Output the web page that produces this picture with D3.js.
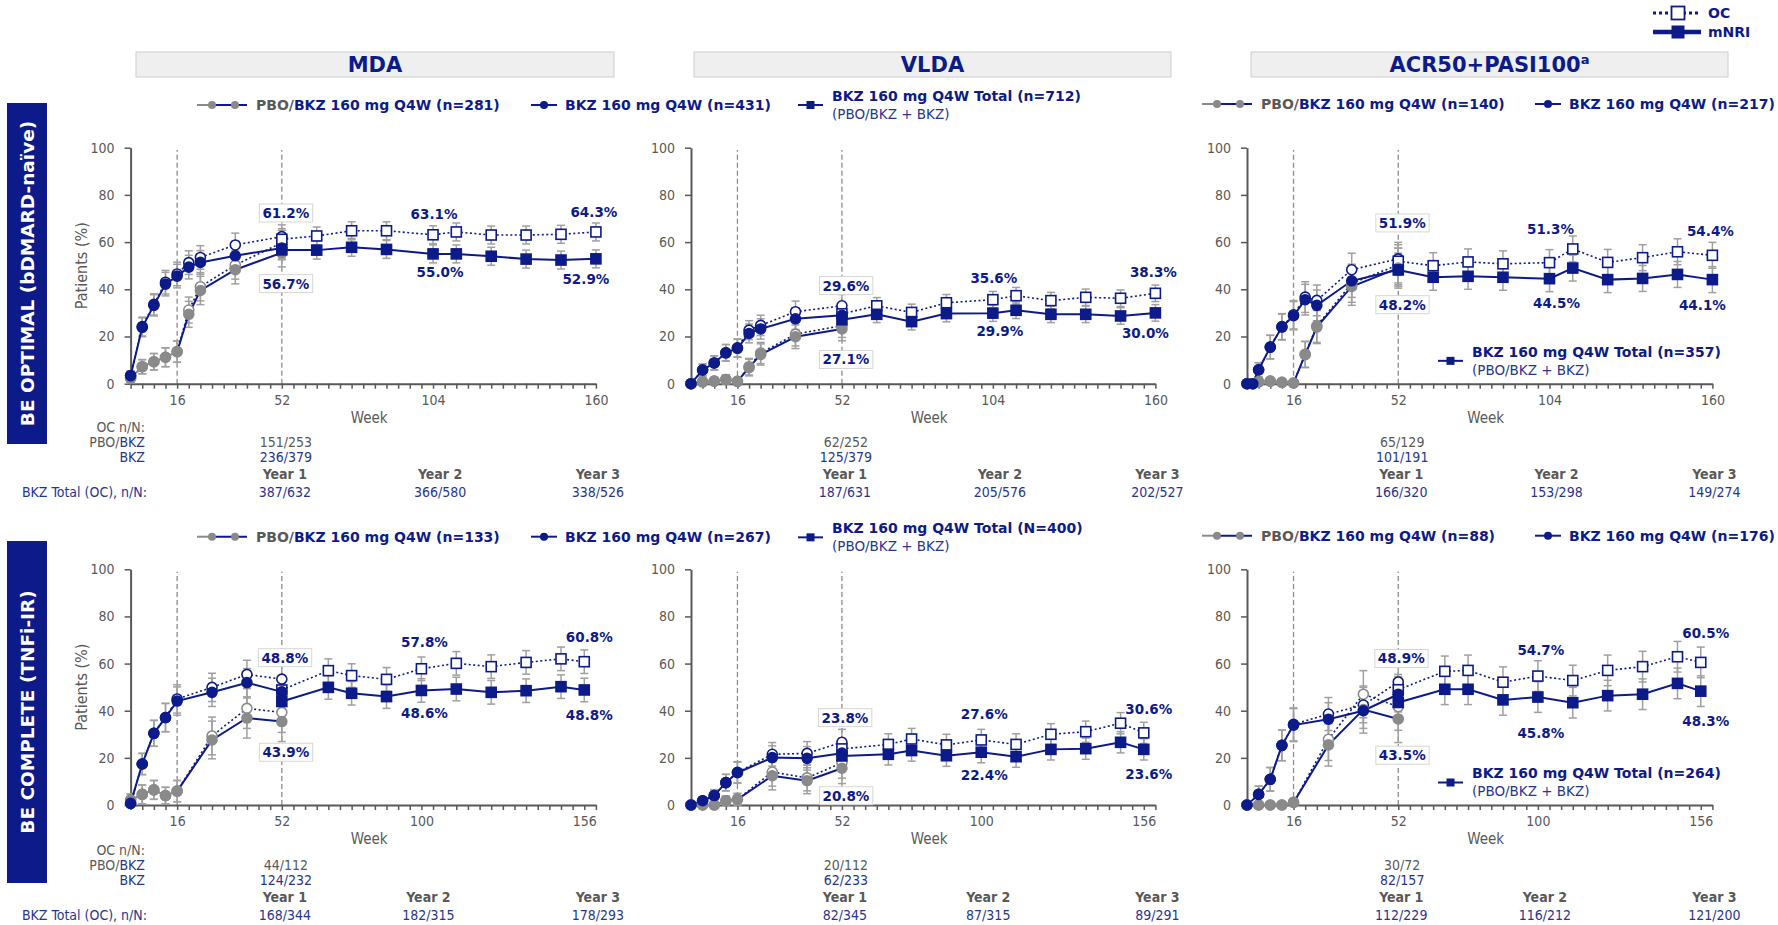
<!DOCTYPE html>
<html>
<head>
<meta charset="utf-8">
<script src="https://cdn.jsdelivr.net/npm/d3@7"></script>
<style>
  body { margin: 0; background: #fff; }
  svg text { font-family: "DejaVu Sans", sans-serif; }
  .cond { font-family: "DejaVu Sans Condensed", "DejaVu Sans", sans-serif; font-stretch: condensed; }
</style>
</head>
<body>
<div id="container"></div>
<script>
// ---- weeks / ticks ----
const weeksOptEarly = [0, 4, 8, 12, 16, 20, 24, 36, 52];
const weeksOptEarlyAcr = [0, 2, 4, 8, 12, 16, 20, 24, 36, 52];
const weeksOptLate = [52, 64, 76, 88, 104, 112, 124, 136, 148, 160];
const weeksCompEarly = [0, 4, 8, 12, 16, 28, 40, 52];
const weeksCompLate = [52, 68, 76, 88, 100, 112, 124, 136, 148, 156];
const tickLabelsOpt = [16, 52, 104, 160];
const tickLabelsComp = [16, 52, 100, 156];
const yTicks = [0, 20, 40, 60, 80, 100];

// ---- BE OPTIMAL, MDA ----
const mdaOptPboNRI = [2.3, 7.2, 9.3, 11.2, 13.6, 29.4, 39.5, 48.3, 55.5];
const mdaOptPboOC  = [2.3, 7.2, 9.3, 11.2, 13.6, 31.2, 41.1, 50.3, 59.7];
const mdaOptBkzNRI = [3.4, 23.9, 33.2, 42.2, 45.6, 49.4, 51.4, 54.2, 57.5];
const mdaOptBkzOC  = [3.4, 24.2, 33.6, 43.0, 46.5, 51.3, 53.5, 58.8, 62.3];
const mdaOptTotOC  = [61.2, 62.6, 64.8, 64.8, 63.1, 64.3, 63.0, 63.0, 63.3, 64.3];
const mdaOptTotNRI = [56.7, 56.6, 57.8, 56.9, 55.0, 55.0, 54.0, 52.8, 52.4, 52.9];
const mdaOptPboErr = [2, 3, 3.5, 4, 4.5, 5.5, 6, 6, 6];
const mdaOptBkzErr = [2, 4, 4.5, 5, 5, 5, 5, 5, 5];

// ---- BE OPTIMAL, VLDA ----
const vldaOptPboNRI = [0, 0.8, 1.1, 1.8, 1.0, 6.8, 12.4, 19.9, 23.2];
const vldaOptPboOC  = [0, 0.8, 1.1, 1.8, 1.0, 7.2, 13.0, 21.0, 24.6];
const vldaOptBkzNRI = [0, 5.8, 8.8, 13.1, 15.0, 21.3, 23.2, 27.5, 29.0];
const vldaOptBkzOC  = [0, 5.8, 8.8, 13.1, 15.2, 22.7, 24.7, 30.5, 33.0];
const vldaOptTotOC  = [29.6, 33.0, 30.2, 34.3, 35.6, 37.3, 35.2, 36.6, 36.2, 38.3];
const vldaOptTotNRI = [27.1, 29.4, 26.3, 29.7, 29.9, 31.1, 29.4, 29.4, 28.7, 30.0];
const vldaOptPboErr = [0.5, 1, 1.5, 2, 1.5, 3.5, 4.5, 5, 5];
const vldaOptBkzErr = [0.5, 2.5, 3, 3.5, 3.8, 4, 4.3, 4.5, 4.8];

// ---- BE OPTIMAL, ACR50+PASI100 ----
const acrOptPboNRI = [0, 0, 0.8, 1.1, 0.6, 0.3, 12.3, 24.0, 41.2, 49.0];
const acrOptPboOC  = [0, 0, 0.8, 1.1, 0.6, 0.3, 12.5, 24.5, 42.5, 50.4];
const acrOptBkzNRI = [0, 0, 5.9, 15.5, 24.0, 28.8, 35.6, 33.2, 43.6, 48.3];
const acrOptBkzOC  = [0, 0, 5.9, 15.5, 24.2, 29.2, 36.7, 35.3, 48.3, 52.9];
const acrOptTotOC  = [51.9, 50.0, 51.6, 50.8, 51.3, 57.1, 51.4, 53.4, 55.9, 54.4];
const acrOptTotNRI = [48.2, 45.1, 45.5, 45.1, 44.5, 49.0, 44.1, 44.6, 46.3, 44.1];
const acrOptPboErr = [0.5, 0.5, 1, 1, 1, 1, 5.5, 7, 8, 8.5];
const acrOptBkzErr = [0.5, 0.5, 3, 5, 5.5, 6, 6.5, 6.5, 7, 7];

// ---- BE COMPLETE, MDA ----
const mdaCompPboNRI = [2.1, 4.5, 6.4, 4.0, 5.9, 27.6, 36.9, 35.4];
const mdaCompPboOC  = [2.1, 4.5, 6.4, 4.0, 5.9, 29.3, 41.0, 39.3];
const mdaCompBkzNRI = [0.7, 17.4, 30.4, 37.1, 44.1, 47.8, 51.9, 48.0];
const mdaCompBkzOC  = [0.7, 17.4, 30.4, 37.1, 45.0, 49.9, 55.4, 53.4];
const mdaCompTotOC  = [48.8, 57.0, 54.9, 53.3, 57.8, 60.1, 58.7, 60.5, 62.0, 60.8];
const mdaCompTotNRI = [43.9, 49.9, 47.4, 46.0, 48.6, 49.2, 47.8, 48.5, 50.2, 48.8];
const mdaCompPboErr = [2.5, 4, 4, 3.5, 4.5, 8, 8.5, 8.5];
const mdaCompBkzErr = [1.5, 4.5, 5.5, 6, 6, 6, 6, 6];

// ---- BE COMPLETE, VLDA ----
const vldaCompPboNRI = [0, 0, 0, 1.8, 2.4, 12.4, 10.3, 15.6];
const vldaCompPboOC  = [0, 0, 0, 1.8, 2.4, 14.0, 11.5, 17.9];
const vldaCompBkzNRI = [0, 1.8, 4.0, 9.5, 13.7, 20.1, 19.8, 22.0];
const vldaCompBkzOC  = [0, 1.8, 4.0, 9.5, 13.9, 21.5, 21.9, 26.6];
const vldaCompTotOC  = [23.8, 25.7, 28.0, 25.5, 27.6, 25.7, 30.0, 31.1, 34.7, 30.6];
const vldaCompTotNRI = [20.8, 21.5, 23.1, 20.9, 22.4, 20.5, 23.6, 23.9, 26.6, 23.6];
const vldaCompPboErr = [0.5, 0.5, 0.5, 2, 2.5, 6, 5.5, 6.5];
const vldaCompBkzErr = [0.5, 1.5, 2.5, 3.5, 4.5, 5, 5, 5.5];

// ---- BE COMPLETE, ACR50+PASI100 ----
const acrCompPboNRI = [0, 0, 0, 0, 1.1, 25.5, 40.5, 36.5];
const acrCompPboOC  = [0, 0, 0, 0, 1.1, 27.9, 47.0, 41.7];
const acrCompBkzNRI = [0, 4.5, 10.9, 25.3, 33.9, 36.4, 40.0, 47.0];
const acrCompBkzOC  = [0, 4.5, 10.9, 25.3, 34.2, 38.6, 42.4, 52.2];
const acrCompTotOC  = [48.9, 56.7, 57.1, 52.1, 54.7, 52.8, 57.1, 58.7, 62.9, 60.5];
const acrCompTotNRI = [43.5, 49.1, 49.1, 44.6, 45.8, 43.4, 46.4, 47.0, 51.6, 48.3];
const acrCompPboErr = [0.5, 0.5, 0.5, 0.5, 1.5, 9, 10, 10];
const acrCompBkzErr = [0.5, 3.5, 5, 6.5, 7, 7, 7.5, 7.5];

// total series error half-width per panel (MDA, VLDA, ACR) x (OPTIMAL, COMPLETE)
const totErrOpt = [3.8, 3.5, 5.5];
const totErrComp = [5, 4.5, 6.5];

// ---- texts ----
const outcomes = ['MDA', 'VLDA', 'ACR50+PASI100'];
const studies = ['BE OPTIMAL (bDMARD-naïve)', 'BE COMPLETE (TNFi-IR)'];
const pboN = [['(n=281)', '(n=140)'], ['(n=133)', '(n=88)']];
const bkzN = [['(n=431)', '(n=217)'], ['(n=267)', '(n=176)']];
const totN = [['(n=712)', '(n=357)'], ['(N=400)', '(n=264)']];
const pboFrac52 = [['151/253', '62/252', '65/129'], ['44/112', '20/112', '30/72']];
const bkzFrac52 = [['236/379', '125/379', '101/191'], ['124/232', '62/233', '82/157']];
const totFracOpt = [['387/632', '366/580', '338/526'], ['187/631', '205/576', '202/527'], ['166/320', '153/298', '149/274']];
const totFracComp = [['168/344', '182/315', '178/293'], ['82/345', '87/315', '89/291'], ['112/229', '116/212', '121/200']];
const yearLabels = ['Year 1', 'Year 2', 'Year 3'];

// ---- layout ----
const NAVY = '#0d1a8a', NAVY_LT = '#28358f', GREY = '#8a8a8a', TXT = '#595959', ERR = '#a0a0a0';
const colX = [[130.6, 595.9], [691, 1155.4], [1247, 1712.4]];
const rowY = [[383.7, 147.7], [805, 569.3]];
const headerX = [[136, 614], [694, 1171], [1251, 1728]];
const rowTextY = [
  { oc: 427, pbo: 442, bkz: 457, year: 474, tot: 492, week: 418, legend: 105, totL: [96, 114], accIn: [351.7, 370], box: [103, 444] },
  { oc: 850, pbo: 865, bkz: 880, year: 897, tot: 915, week: 839, legend: 536.7, totL: [528, 546.7], accIn: [773.3, 791.7], box: [541, 883] }
];
const labelIdx = [0, 4, 9];
const aboveDy = [[-26, -21, -20], [-28, -21, -21], [-38, -33, -24], [-32, -26, -24], [-31, -26, -24], [-31, -26, -29]];
const belowDy = [[34, 18, 20], [40, 18, 20], [35, 25, 26], [51, 23, 25], [40, 23, 25], [53, 36, 30]];
const aboveDx = [[4, 1, -2], [3, 3, 5]];
const belowDx = [[4, 7, -10], [4, 3, 5]];

const panels = [
  { row: 0, col: 0, early: weeksOptEarly, late: weeksOptLate, ticks: tickLabelsOpt, pboOC: mdaOptPboOC, pboNRI: mdaOptPboNRI, bkzOC: mdaOptBkzOC, bkzNRI: mdaOptBkzNRI, totOC: mdaOptTotOC, totNRI: mdaOptTotNRI, pboErr: mdaOptPboErr, bkzErr: mdaOptBkzErr, totErr: totErrOpt[0], fr: totFracOpt[0] },
  { row: 0, col: 1, early: weeksOptEarly, late: weeksOptLate, ticks: tickLabelsOpt, pboOC: vldaOptPboOC, pboNRI: vldaOptPboNRI, bkzOC: vldaOptBkzOC, bkzNRI: vldaOptBkzNRI, totOC: vldaOptTotOC, totNRI: vldaOptTotNRI, pboErr: vldaOptPboErr, bkzErr: vldaOptBkzErr, totErr: totErrOpt[1], fr: totFracOpt[1] },
  { row: 0, col: 2, early: weeksOptEarlyAcr, late: weeksOptLate, ticks: tickLabelsOpt, pboOC: acrOptPboOC, pboNRI: acrOptPboNRI, bkzOC: acrOptBkzOC, bkzNRI: acrOptBkzNRI, totOC: acrOptTotOC, totNRI: acrOptTotNRI, pboErr: acrOptPboErr, bkzErr: acrOptBkzErr, totErr: totErrOpt[2], fr: totFracOpt[2] },
  { row: 1, col: 0, early: weeksCompEarly, late: weeksCompLate, ticks: tickLabelsComp, pboOC: mdaCompPboOC, pboNRI: mdaCompPboNRI, bkzOC: mdaCompBkzOC, bkzNRI: mdaCompBkzNRI, totOC: mdaCompTotOC, totNRI: mdaCompTotNRI, pboErr: mdaCompPboErr, bkzErr: mdaCompBkzErr, totErr: totErrComp[0], fr: totFracComp[0] },
  { row: 1, col: 1, early: weeksCompEarly, late: weeksCompLate, ticks: tickLabelsComp, pboOC: vldaCompPboOC, pboNRI: vldaCompPboNRI, bkzOC: vldaCompBkzOC, bkzNRI: vldaCompBkzNRI, totOC: vldaCompTotOC, totNRI: vldaCompTotNRI, pboErr: vldaCompPboErr, bkzErr: vldaCompBkzErr, totErr: totErrComp[1], fr: totFracComp[1] },
  { row: 1, col: 2, early: weeksCompEarly, late: weeksCompLate, ticks: tickLabelsComp, pboOC: acrCompPboOC, pboNRI: acrCompPboNRI, bkzOC: acrCompBkzOC, bkzNRI: acrCompBkzNRI, totOC: acrCompTotOC, totNRI: acrCompTotNRI, pboErr: acrCompPboErr, bkzErr: acrCompBkzErr, totErr: totErrComp[2], fr: totFracComp[2] }
];

const svg = d3.select('#container').append('svg')
  .attr('width', 1778).attr('height', 925)
  .style('display', 'block');

const pts = (weeks, vals, err) => weeks.map((w, i) => ({ w, v: vals[i], e: Array.isArray(err) ? err[i] : err }));

function styleAxis(sel) {
  sel.select('.domain').attr('stroke', TXT).attr('stroke-width', 2);
  sel.selectAll('.tick line').attr('stroke', TXT).attr('stroke-width', 1.5);
  sel.selectAll('.tick text').attr('class', 'cond').attr('font-size', 14).attr('fill', TXT);
}

function txt(g, x, y, s, opts = {}) {
  return g.append('text').attr('x', x).attr('y', y).attr('dy', '0.35em')
    .attr('text-anchor', opts.anchor || 'middle')
    .attr('font-size', opts.size || 14)
    .attr('font-weight', opts.bold ? 'bold' : null)
    .attr('class', opts.cond ? 'cond' : null)
    .attr('fill', opts.fill || NAVY)
    .text(s);
}

panels.forEach((p, pi) => {
  const [x0, x1] = colX[p.col];
  const [y0, y1] = rowY[p.row];
  const R = rowTextY[p.row];
  const x = d3.scaleLinear().domain([0, 160]).range([x0, x1]);
  const y = d3.scaleLinear().domain([0, 100]).range([y0, y1]);
  const g = svg.append('g');

  // reference lines at weeks 16 and 52
  g.selectAll('line.ref').data([16, 52]).join('line').attr('class', 'ref')
    .attr('x1', d => x(d)).attr('x2', d => x(d))
    .attr('y1', y(0)).attr('y2', y(99))
    .attr('stroke', '#8c8c8c').attr('stroke-width', 1.3).attr('stroke-dasharray', '5,3');

  g.append('g').attr('transform', `translate(0,${y0})`)
    .call(d3.axisBottom(x).tickValues(d3.range(0, 161, 4))
      .tickFormat(d => p.ticks.includes(d) ? d : '')
      .tickSize(5).tickSizeOuter(0).tickPadding(6))
    .call(styleAxis);
  g.append('g').attr('transform', `translate(${x0},0)`)
    .call(d3.axisLeft(y).tickValues(yTicks).tickSize(6).tickSizeOuter(0).tickPadding(10))
    .call(styleAxis);

  const pboOC = pts(p.early, p.pboOC, p.pboErr), pboNRI = pts(p.early, p.pboNRI, p.pboErr);
  const bkzOC = pts(p.early, p.bkzOC, p.bkzErr), bkzNRI = pts(p.early, p.bkzNRI, p.bkzErr);
  const totOC = pts(p.late, p.totOC, p.totErr), totNRI = pts(p.late, p.totNRI, p.totErr);

  // error bars
  const errG = g.append('g').attr('stroke', ERR).attr('stroke-width', 1.5);
  [pboOC, pboNRI, bkzOC, bkzNRI, totOC, totNRI].forEach(s => {
    s.forEach(d => {
      const lo = y(Math.max(0, d.v - d.e)), hi = y(Math.min(100, d.v + d.e)), cx = x(d.w);
      errG.append('line').attr('x1', cx).attr('x2', cx).attr('y1', lo).attr('y2', hi);
      errG.append('line').attr('x1', cx - 4).attr('x2', cx + 4).attr('y1', lo).attr('y2', lo);
      errG.append('line').attr('x1', cx - 4).attr('x2', cx + 4).attr('y1', hi).attr('y2', hi);
    });
  });

  const line = d3.line().x(d => x(d.w)).y(d => y(d.v));
  const drawLine = (data, color, dotted) => g.append('path').datum(data)
    .attr('d', line).attr('fill', 'none').attr('stroke', color)
    .attr('stroke-width', dotted ? 1.6 : 2)
    .attr('stroke-dasharray', dotted ? '2,2.5' : null);

  // OC dotted lines
  drawLine(pboOC.filter(d => d.w <= 16), GREY, true);
  drawLine(pboOC.filter(d => d.w >= 16), NAVY, true);
  drawLine(bkzOC, NAVY, true);
  drawLine(totOC, NAVY, true);
  // mNRI solid lines
  drawLine(pboNRI.filter(d => d.w <= 16), GREY, false);
  drawLine(pboNRI.filter(d => d.w >= 16), NAVY, false);
  drawLine(bkzNRI, NAVY, false);
  drawLine(totNRI, NAVY, false);

  const circles = (data, stroke, fill) => g.append('g').selectAll('circle').data(data).join('circle')
    .attr('cx', d => x(d.w)).attr('cy', d => y(d.v)).attr('r', 5)
    .attr('fill', fill).attr('stroke', stroke).attr('stroke-width', 1.6);
  const squares = (data, fill) => g.append('g').selectAll('rect').data(data).join('rect')
    .attr('x', d => x(d.w) - 5).attr('y', d => y(d.v) - 5).attr('width', 10).attr('height', 10)
    .attr('fill', fill).attr('stroke', NAVY).attr('stroke-width', 1.6);

  circles(pboOC, GREY, '#fff');
  circles(bkzOC, NAVY, '#fff');
  squares(totOC, '#fff');
  circles(pboNRI, GREY, GREY);
  circles(bkzNRI, NAVY, NAVY);
  squares(totNRI, NAVY);

  // value labels
  labelIdx.forEach((idx, k) => {
    [[totOC, aboveDy[pi][k], aboveDx[p.row][k]], [totNRI, belowDy[pi][k], belowDx[p.row][k]]].forEach(([s, dy, dx]) => {
      const d = s[idx];
      const t = txt(g, x(d.w) + dx, y(d.v) + dy, d.v.toFixed(1) + '%', { bold: true, size: 13.5 });
      if (k === 0) {
        const b = t.node().getBBox();
        g.insert('rect', () => t.node())
          .attr('x', b.x - 3).attr('y', b.y - 1).attr('width', b.width + 6).attr('height', b.height + 2)
          .attr('fill', '#fff').attr('stroke', '#d6d6d6').attr('stroke-width', 1);
      }
    });
  });

  // axis titles
  txt(g, (x0 + x1) / 2 + 6, R.week, 'Week', { size: 15, cond: true, fill: TXT });
  if (p.col === 0) {
    g.append('text').attr('transform', `translate(81.6,${(y0 + y1) / 2}) rotate(-90)`)
      .attr('dy', '0.35em').attr('text-anchor', 'middle').attr('font-size', 16)
      .attr('class', 'cond').attr('fill', TXT).text('Patients (%)');
  }

  // n/N table
  txt(g, x(52) + 4, R.pbo, pboFrac52[p.row][p.col], { cond: true, fill: TXT });
  txt(g, x(52) + 4, R.bkz, bkzFrac52[p.row][p.col], { cond: true, fill: NAVY_LT });
  const yearX = [x(52) + 3, x(p.ticks[2]) + 7, x(160) + 2];
  yearLabels.forEach((yl, k) => {
    txt(g, yearX[k], R.year, yl, { bold: true, cond: true, fill: TXT });
    txt(g, yearX[k], R.tot, p.fr[k], { cond: true, fill: NAVY_LT });
  });
});

// row-level texts
rowTextY.forEach((R, r) => {
  const g = svg.append('g');
  // study label box
  g.append('rect').attr('x', 7).attr('y', R.box[0]).attr('width', 40).attr('height', R.box[1] - R.box[0]).attr('fill', NAVY);
  g.append('text').attr('transform', `translate(27,${(R.box[0] + R.box[1]) / 2}) rotate(-90)`)
    .attr('dy', '0.36em').attr('text-anchor', 'middle').attr('font-size', 18.5).attr('font-weight', 'bold')
    .attr('fill', '#fff').text(studies[r]);

  txt(g, 145, R.oc, 'OC n/N:', { anchor: 'end', cond: true, fill: TXT });
  const pb = txt(g, 145, R.pbo, '', { anchor: 'end', cond: true });
  pb.append('tspan').attr('fill', TXT).text('PBO/');
  pb.append('tspan').attr('fill', NAVY_LT).text('BKZ');
  txt(g, 145, R.bkz, 'BKZ', { anchor: 'end', cond: true, fill: NAVY_LT });
  txt(g, 147, R.tot, 'BKZ Total (OC), n/N:', { anchor: 'end', cond: true, fill: NAVY_LT });

  // legends
  const pboItem = (x0, yy, n) => {
    g.append('line').attr('x1', x0).attr('x2', x0 + 15).attr('y1', yy).attr('y2', yy).attr('stroke', GREY).attr('stroke-width', 2);
    g.append('line').attr('x1', x0 + 15).attr('x2', x0 + 50).attr('y1', yy).attr('y2', yy).attr('stroke', NAVY).attr('stroke-width', 2);
    [x0 + 15, x0 + 38].forEach(cx => g.append('circle').attr('cx', cx).attr('cy', yy).attr('r', 4).attr('fill', GREY));
    const t = txt(g, x0 + 59, yy, '', { anchor: 'start', bold: true, size: 14 });
    t.append('tspan').attr('fill', TXT).text('PBO/');
    t.append('tspan').attr('fill', NAVY).text('BKZ 160 mg Q4W ' + n);
  };
  const bkzItem = (x0, yy, n) => {
    g.append('line').attr('x1', x0).attr('x2', x0 + 26).attr('y1', yy).attr('y2', yy).attr('stroke', NAVY).attr('stroke-width', 2);
    g.append('circle').attr('cx', x0 + 13).attr('cy', yy).attr('r', 4).attr('fill', NAVY);
    txt(g, x0 + 34, yy, 'BKZ 160 mg Q4W ' + n, { anchor: 'start', bold: true, size: 14 });
  };
  const totItem = (x0, yy, n) => {
    const mid = (yy[0] + yy[1]) / 2;
    g.append('line').attr('x1', x0).attr('x2', x0 + 25).attr('y1', mid).attr('y2', mid).attr('stroke', NAVY).attr('stroke-width', 2);
    g.append('rect').attr('x', x0 + 8.5).attr('y', mid - 4).attr('width', 8).attr('height', 8).attr('fill', NAVY);
    txt(g, x0 + 34, yy[0], 'BKZ 160 mg Q4W Total ' + n, { anchor: 'start', bold: true, size: 14 });
    txt(g, x0 + 34, yy[1], '(PBO/BKZ + BKZ)', { anchor: 'start', size: 13.5, fill: NAVY_LT });
  };
  pboItem(197, R.legend, pboN[r][0]);
  bkzItem(531, R.legend, bkzN[r][0]);
  totItem(798, R.totL, totN[r][0]);
  pboItem(1202, R.legend - 1, pboN[r][1]);
  bkzItem(1535, R.legend - 1, bkzN[r][1]);
  totItem(1438, R.accIn, totN[r][1]);
});

// outcome headers
outcomes.forEach((o, c) => {
  const [hx0, hx1] = headerX[c];
  svg.append('rect').attr('x', hx0).attr('y', 52).attr('width', hx1 - hx0).attr('height', 25)
    .attr('fill', '#efefef').attr('stroke', '#cdcdcd');
  const t = txt(svg, (hx0 + hx1) / 2, 64.5, o, { bold: true, size: 21 });
  if (c === 2) t.append('tspan').attr('font-size', 13).attr('dy', '-0.6em').text('a');
});

// OC / mNRI legend
const lg = svg.append('g');
lg.append('line').attr('x1', 1653).attr('x2', 1701).attr('y1', 13).attr('y2', 13)
  .attr('stroke', NAVY).attr('stroke-width', 3).attr('stroke-dasharray', '3,3');
lg.append('rect').attr('x', 1671.5).attr('y', 6.5).attr('width', 13).attr('height', 13)
  .attr('fill', '#fff').attr('stroke', NAVY).attr('stroke-width', 1.8);
lg.append('line').attr('x1', 1653).attr('x2', 1701).attr('y1', 32).attr('y2', 32)
  .attr('stroke', NAVY).attr('stroke-width', 4.5);
lg.append('rect').attr('x', 1671.5).attr('y', 25.5).attr('width', 13).attr('height', 13).attr('fill', NAVY);
txt(lg, 1708, 13, 'OC', { anchor: 'start', bold: true, size: 14 });
txt(lg, 1708, 32, 'mNRI', { anchor: 'start', bold: true, size: 14 });
</script>
</body>
</html>
